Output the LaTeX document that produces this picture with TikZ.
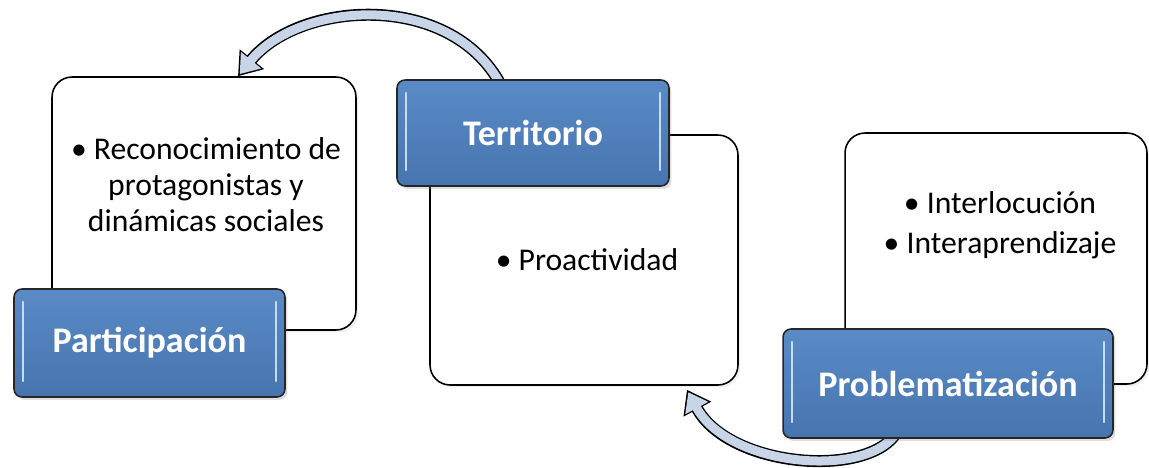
\documentclass[tikz,border=0pt]{standalone}
\usepackage{fontspec}
\setmainfont{Carlito}
\usetikzlibrary{arrows.meta,shadows,backgrounds}

\definecolor{titleBlueTop}{HTML}{5A8BC6}
\definecolor{titleBlueBot}{HTML}{4674AF}
\definecolor{glossBlue}{HTML}{C4DCF6}
\definecolor{arrowFill}{HTML}{C8D4E8}

\tikzset{
	textBox/.style={rectangle, rounded corners=0.4cm, draw=black, line width=0.9pt, fill=white,
		drop shadow={opacity=0.12, shadow xshift=0.05cm, shadow yshift=-0.05cm}},
	titleBox/.style={rectangle, rounded corners=0.16cm, draw=black!85, line width=0.9pt,
		top color=titleBlueTop, bottom color=titleBlueBot, text=white,
		font=\bfseries\fontsize{20.5}{24}\selectfont,
		drop shadow={opacity=0.25, shadow xshift=0.05cm, shadow yshift=-0.06cm},
		path picture={
			\draw[glossBlue, line width=1.5pt, line cap=round]
				([xshift=0.18cm, yshift=-0.26cm]path picture bounding box.north west) -- ([xshift=0.18cm, yshift=0.32cm]path picture bounding box.south west)
				([xshift=-0.18cm, yshift=-0.26cm]path picture bounding box.north east) -- ([xshift=-0.18cm, yshift=0.32cm]path picture bounding box.south east);
		}},
	itemText/.style={align=center, font=\fontsize{18}{20.5}\selectfont, text=black},
	cycleOuter/.style={line width=0.24cm, draw=black, -{Triangle[width=0.6cm, length=0.44cm]}},
	cycleInner/.style={line width=0.18cm, draw=arrowFill, shorten >=0.055cm, -{Triangle[width=0.5cm, length=0.36cm]}}
}

\begin{document}
\begin{tikzpicture}[x=0.02cm, y=-0.02cm]
	\useasboundingbox (0,0) rectangle (1149,467);

	% white boxes
	\node[textBox, minimum width=6.08cm, minimum height=5.06cm](partBox) at (204,203.5){};
	\node[textBox, minimum width=6.16cm, minimum height=5.0cm](terrBox) at (584,260){};
	\node[textBox, minimum width=6.04cm, minimum height=5.02cm](problBox) at (996,258.5){};

	% titles
	\node[titleBox, minimum width=5.42cm, minimum height=2.16cm](partTitle) at (149.5,343){Participación};
	\node[titleBox, minimum width=5.44cm, minimum height=2.12cm](terrTitle) at (533,133){Territorio};
	\node[titleBox, minimum width=6.6cm, minimum height=2.18cm](problTitle) at (948,383.5){Problematización};

	% bullet texts
	\node[itemText](partText) at (206,185){• Reconocimiento de\\protagonistas y\\dinámicas sociales};
	\node[itemText](terrText) at (587,260){• Proactividad};
	\node[itemText](problText) at (1000,225){• Interlocución\\[2pt]• Interaprendizaje};

	% cycle arrows
	\begin{scope}[on background layer]
	\draw[cycleOuter] ([xshift=-0.6cm, yshift=-0.2cm]terrTitle.north) .. controls (455,-10) and (300,0) .. ([xshift=0.68cm]partBox.north);
	\draw[cycleInner] ([xshift=-0.6cm, yshift=-0.2cm]terrTitle.north) .. controls (455,-10) and (300,0) .. ([xshift=0.68cm]partBox.north);
	\draw[cycleOuter] ([xshift=-0.96cm, yshift=0.26cm]problTitle.south) .. controls (880,480) and (730,470) .. ([xshift=2.06cm, yshift=-0.08cm]terrBox.south);
	\draw[cycleInner] ([xshift=-0.96cm, yshift=0.26cm]problTitle.south) .. controls (880,480) and (730,470) .. ([xshift=2.06cm, yshift=-0.08cm]terrBox.south);
	\end{scope}
\end{tikzpicture}
\end{document}
